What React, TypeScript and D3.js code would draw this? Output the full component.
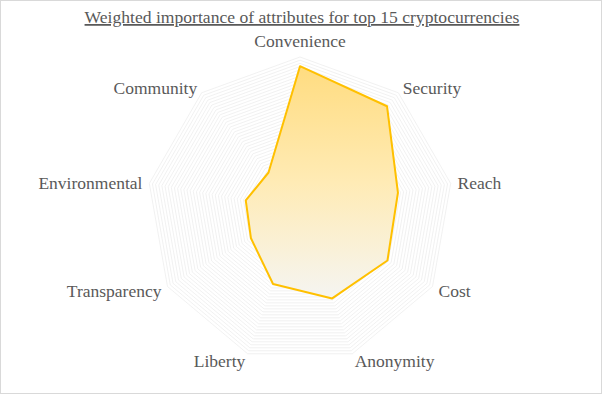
import React from "react";
import * as d3 from "d3";

const width = 602;
const height = 394;

const title = "Weighted importance of attributes for top 15 cryptocurrencies";
const attributes = [
  "Convenience",
  "Security",
  "Reach",
  "Cost",
  "Anonymity",
  "Liberty",
  "Transparency",
  "Environmental",
  "Community",
];
const weights = [0.94, 0.885, 0.65, 0.66, 0.615, 0.515, 0.37, 0.36, 0.32];
const ringCount = 48;

const cx = 300;
const cy = 210;
const outerR = 153;

export default function App() {
  const r = d3.scaleLinear().domain([0, 1]).range([0, outerR]);
  const angle = d3
    .scaleLinear()
    .domain([0, attributes.length])
    .range([0, 2 * Math.PI]);

  const radar = d3
    .lineRadial<number>()
    .angle((_, i) => angle(i))
    .radius((d) => r(d))
    .curve(d3.curveLinearClosed);

  const rings = d3.range(1, ringCount + 1).map((i) => i / ringCount);

  return (
    <svg
      width={width}
      height={height}
      style={{ position: "absolute", left: 0, top: 0, background: "#fff" }}
      fontFamily="'Liberation Serif', serif"
    >
      <defs>
        <linearGradient id="fillGrad" x1="0" y1="0" x2="0" y2="1">
          <stop offset="0" stopColor="#ffdc80" />
          <stop offset="0.5" stopColor="#ffebb5" />
          <stop offset="1" stopColor="#f5f5f2" />
        </linearGradient>
      </defs>
      <rect x={0.5} y={0.5} width={width - 1} height={height - 1} fill="#fff" stroke="#d9d9d9" />

      <text
        x={width / 2 + 1}
        y={23}
        textAnchor="middle"
        fontSize={17.6}
        fill="#595959"
        textDecoration="underline"
      >
        {title}
      </text>

      <g transform={`translate(${cx},${cy})`}>
        {rings.map((v, i) => (
          <path
            key={i}
            d={radar(attributes.map(() => v)) || ""}
            fill="none"
            stroke="#eeeeee"
            strokeWidth={0.8}
          />
        ))}
        <path
          d={radar(weights) || ""}
          fill="url(#fillGrad)"
          stroke="#ffc000"
          strokeWidth={2}
          strokeLinejoin="round"
        />
        {attributes.map((name, i) => {
          const a = angle(i);
          const s = Math.sin(a);
          const c = Math.cos(a);
          const lr = outerR + 7;
          const anchor = Math.abs(s) < 0.1 ? "middle" : s > 0 ? "start" : "end";
          const dy = Math.abs(s) < 0.1 ? -7 : 3;
          return (
            <text
              key={name}
              x={lr * s}
              y={-lr * c + dy}
              textAnchor={anchor}
              dominantBaseline="middle"
              fontSize={17.5}
              fill="#595959"
            >
              {name}
            </text>
          );
        })}
      </g>
    </svg>
  );
}
